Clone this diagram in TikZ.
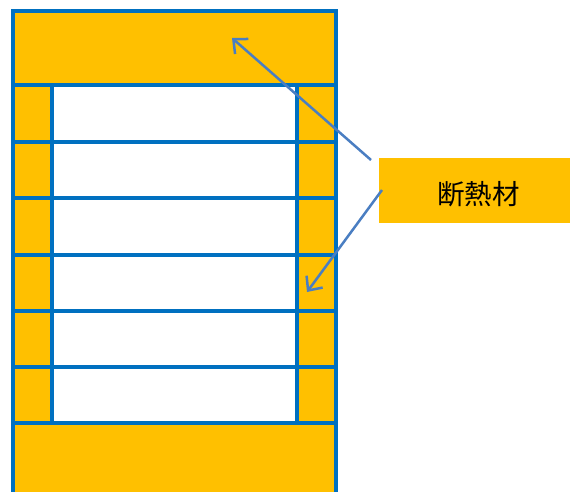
\documentclass[tikz,border=0pt]{standalone}
\usepackage{fontspec}
\newfontfamily\cjk{Noto Sans CJK JP}
\usetikzlibrary{arrows.meta}
\definecolor{gold}{HTML}{FFC000}
\definecolor{wallblue}{HTML}{0070C0}
\definecolor{arrowblue}{HTML}{4A7EC2}
\tikzset{
  wall/.style={draw=wallblue, line width=4pt},
  pointer/.style={draw=arrowblue, line width=2.5pt, -{Straight Barb[length=11pt,width=20pt,line width=2.5pt]}},
  labelbox/.style={fill=gold, draw=none, minimum width=191pt, minimum height=65pt, inner sep=0pt},
  labeltext/.style={inner sep=0pt, font=\cjk\fontsize{27.5}{32}\selectfont}
}
\begin{document}
\begin{tikzpicture}[x=1pt,y=-1pt]
\useasboundingbox (0,0) rectangle (570,492);
% fills
\fill[gold] (12.5,11.5) rectangle (336,85);
\fill[gold] (12.5,423) rectangle (336,500);
\fill[gold] (12.5,85) rectangle (51.5,423);
\fill[gold] (297,85) rectangle (336,423);
% walls
\draw[wall] (12.5,500) -- (12.5,11.5) -- (336,11.5) -- (336,500);
\foreach \y in {85,142,198,255,311,367,423} {
  \draw[wall] (12.5,\y) -- (336,\y);
}
\draw[wall] (51.5,85) -- (51.5,423);
\draw[wall] (297,85) -- (297,423);
% label
\node[labelbox] (lbl) at (474.5,190.5) {};
\node[labeltext] (lbltext) at (478.5,194) {断熱材};
\coordinate (t1) at (232,38);
\coordinate (t2) at (307,292);
\coordinate (s1) at (371,160);
\coordinate (s2) at (382,190);
\draw[pointer] (s1) -- (t1);
\draw[pointer] (s2) -- (t2);
\end{tikzpicture}
\end{document}
